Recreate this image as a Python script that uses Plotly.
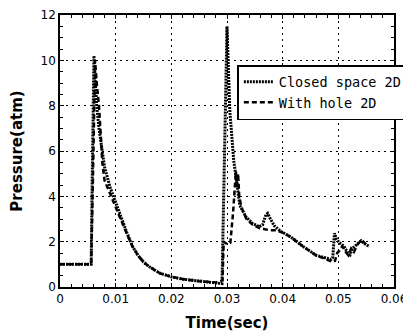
import plotly.graph_objects as go

# Closed space 2D
t_closed = [0, 0.0056, 0.0058, 0.0060, 0.0061, 0.0063, 0.0066, 0.0070, 0.0075, 0.0080, 0.0090,
            0.0100, 0.0110, 0.0120, 0.0130, 0.0140, 0.0150, 0.0160, 0.0180, 0.0200, 0.0220,
            0.0250, 0.0280, 0.0291, 0.0294, 0.0298, 0.0300, 0.0302, 0.0305, 0.0312, 0.0316,
            0.0319, 0.0323, 0.0334, 0.0346, 0.0358, 0.0364, 0.0370, 0.0373, 0.0378, 0.0385,
            0.0397, 0.0415, 0.0436, 0.0460, 0.0475, 0.0487, 0.0490, 0.0493, 0.0497, 0.0502,
            0.0510, 0.0517, 0.0521, 0.0525, 0.0532, 0.0541, 0.0548, 0.0556]
p_closed = [1.0, 1.0, 5.0, 9.5, 10.2, 9.2, 8.0, 7.0, 6.1, 5.3, 4.4,
            3.7, 3.0, 2.4, 1.8, 1.4, 1.1, 0.9, 0.6, 0.45, 0.35,
            0.25, 0.18, 0.15, 4.0, 9.5, 11.5, 10.0, 7.8, 5.6, 4.8,
            4.2, 3.6, 3.1, 2.8, 2.66, 2.75, 3.2, 3.25, 3.0, 2.7,
            2.45, 2.2, 1.8, 1.4, 1.3, 1.22, 1.3, 2.37, 2.1, 1.95,
            1.8, 1.5, 1.42, 1.7, 1.85, 2.04, 1.9, 1.78]

# With hole 2D
t_hole = [0, 0.0056, 0.0059, 0.0062, 0.0063, 0.0066, 0.0070, 0.0073, 0.0076, 0.0080, 0.0090,
          0.0100, 0.0110, 0.0120, 0.0130, 0.0140, 0.0150, 0.0160, 0.0180, 0.0200, 0.0220,
          0.0250, 0.0280, 0.0292, 0.0294, 0.0300, 0.0306, 0.0311, 0.0316, 0.0318, 0.0320,
          0.0322, 0.0326, 0.0335, 0.0346, 0.0358, 0.0368, 0.0377, 0.0388, 0.0400, 0.0415,
          0.0436, 0.0460, 0.0478, 0.0490, 0.0494, 0.0498, 0.0502, 0.0507, 0.0513, 0.0518,
          0.0523, 0.0528, 0.0535, 0.0542, 0.0547, 0.0553]
p_hole = [1.0, 1.0, 4.5, 9.0, 10.0, 9.0, 8.0, 6.8, 5.5, 4.7, 4.1,
          3.5, 2.9, 2.35, 1.8, 1.4, 1.1, 0.9, 0.6, 0.45, 0.35,
          0.25, 0.2, 0.3, 2.0, 1.9, 1.95, 3.3, 5.1, 4.4, 5.0,
          4.0, 3.5, 3.0, 2.75, 2.6, 2.55, 2.5, 2.5, 2.4, 2.2,
          1.8, 1.4, 1.2, 1.1, 1.15, 1.5, 1.6, 1.8, 1.55, 1.4,
          1.7, 1.55, 1.9, 2.07, 1.95, 1.8]

x_ticks = [0, 0.01, 0.02, 0.03, 0.04, 0.05, 0.06]
x_tick_labels = ["0", "0.01", "0.02", "0.03", "0.04", "0.05", "0.06"]
y_ticks = [0, 2, 4, 6, 8, 10, 12]
y_tick_labels = ["0", "2", "4", "6", "8", "10", "12"]

fig = go.Figure()
fig.add_trace(go.Scatter(x=t_closed, y=p_closed, mode="lines", name="Closed space 2D",
                         line=dict(color="black", width=3, dash="2px,1px")))
fig.add_trace(go.Scatter(x=t_hole, y=p_hole, mode="lines", name="With hole 2D",
                         line=dict(color="black", width=2.5, dash="5px,3px")))

tickfont = dict(family="DejaVu Sans", size=12, color="black")
axis_common = dict(
    showline=True, linecolor="black", linewidth=1.5, mirror="ticks",
    ticks="inside", ticklen=4, tickcolor="black", tickwidth=1,
    showgrid=True, gridcolor="black", gridwidth=1, griddash="2px,4px",
    zeroline=False, tickfont=tickfont, ticklabeloverflow="allow",
)
fig.update_xaxes(range=[0, 0.06], tickvals=x_ticks, ticktext=x_tick_labels,
                 minor=dict(dtick=0.002, ticks="inside", ticklen=3, tickcolor="black", showgrid=False),
                 title=dict(text="<b>Time(sec)</b>", font=dict(family="DejaVu Sans", size=15, color="black"),
                            standoff=12),
                 **axis_common)
fig.update_yaxes(range=[0, 12], tickvals=y_ticks, ticktext=y_tick_labels,
                 minor=dict(dtick=0.5, ticks="inside", ticklen=3, tickcolor="black", showgrid=False),
                 title=dict(text="<b>Pressure(atm)</b>", font=dict(family="DejaVu Sans", size=15, color="black"),
                            standoff=14),
                 **axis_common)

fig.update_layout(
    width=403, height=336,
    margin=dict(l=60, r=9, t=15, b=49, autoexpand=False),
    paper_bgcolor="white", plot_bgcolor="white",
    showlegend=True,
    legend=dict(x=0.531, y=0.816, xanchor="left", yanchor="top",
                bgcolor="white", bordercolor="black", borderwidth=1.5,
                font=dict(family="DejaVu Sans Mono", size=13.5, color="black"),
                tracegroupgap=0, itemwidth=30),
)

fig.write_html("out.html")
